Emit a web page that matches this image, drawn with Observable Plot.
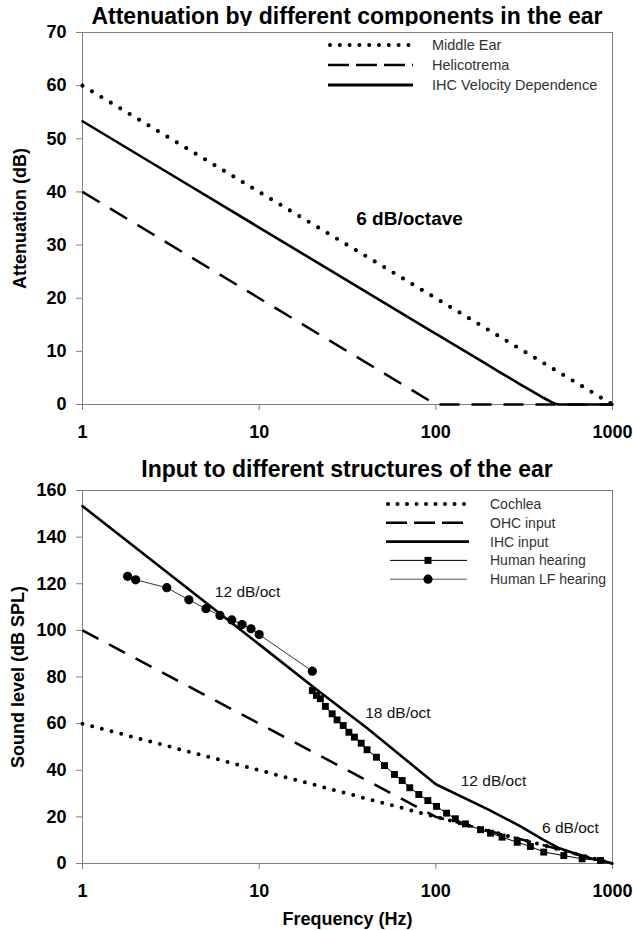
<!DOCTYPE html>
<html><head><meta charset="utf-8">
<script src="https://cdn.jsdelivr.net/npm/d3@7"></script>
<script src="https://cdn.jsdelivr.net/npm/@observablehq/plot@0.6"></script>
<style>
body{margin:0;background:#fff;}
#wrap{position:relative;width:633px;height:930px;font-family:"Liberation Sans",Arial,sans-serif;background:#fff;}
.title{position:absolute;left:82px;width:530px;text-align:center;font-weight:bold;font-size:23px;line-height:23px;color:#000;white-space:nowrap;}
.panel{position:absolute;left:0;}
#leg{position:absolute;left:0;top:0;pointer-events:none;}
</style></head><body>
<div id="wrap">
  <div class="title" style="top:5px">Attenuation by different components in the ear</div>
  <div class="panel" id="p1" style="top:26px"></div>
  <div class="title" style="top:458px">Input to different structures of the ear</div>
  <div class="panel" id="p2" style="top:484px"></div>
  <svg id="leg" width="633" height="930"></svg>
</div>
<script>
// ---------- data ----------
const xTicks = [1, 10, 100, 1000];
const yTicksTop = [0, 10, 20, 30, 40, 50, 60, 70];
const yTicksBottom = [0, 20, 40, 60, 80, 100, 120, 140, 160];

// Top panel: attenuation (dB) vs frequency (Hz)
const middleEarFreq = [1, 1000];
const middleEarDb   = [60, 0];
const helicotremaFreq = [1, 100, 1000];
const helicotremaDb   = [40, 0, 0];
const ihcVelFreq = [1, 10, 100, 200, 300, 350, 400, 450, 480, 500, 1000];
const ihcVelDb   = [53.3, 33.3, 13.3, 7.3, 3.8, 2.5, 1.4, 0.5, 0.1, 0, 0];

// Bottom panel: sound level (dB SPL) vs frequency (Hz)
const cochleaFreq = [1, 10, 100, 1000];
const cochleaDb   = [60, 40, 20, 0];
const ohcFreq = [1, 100, 1000];
const ohcDb   = [100, 20, 0];
const ihcInFreq = [1, 10, 20, 40.9, 100, 200, 300, 400, 500, 700, 1000];
const ihcInDb   = [153.3, 94, 76, 58, 34, 23, 16, 10.5, 6.5, 2.8, 0];
const humanFreq = [20, 21.1, 22.2, 23.7, 25.9, 27.6, 29.9, 32.2, 34.6, 37.8, 40.8, 46.1, 51.2, 58.3, 64.5, 71.2, 80.1, 90.1, 100.9, 115, 129, 147, 179, 204, 237, 289, 343, 408, 530, 673, 855];
const humanDb   = [74.2, 72.1, 70.7, 67.4, 64.2, 61.6, 59.2, 56.3, 54.2, 51.6, 48.8, 45.6, 42.0, 38.2, 35.6, 32.5, 29.6, 27.0, 24.5, 21.6, 19.2, 17.0, 14.5, 13.0, 11.3, 9.1, 7.3, 4.9, 3.4, 2.0, 1.3];
const humanLFFreq = [1.8, 2, 3, 4, 5, 6, 7, 8, 9, 10, 20];
const humanLFDb   = [123.2, 121.7, 118.3, 113.1, 109.3, 106.4, 104.5, 102.5, 100.7, 98.2, 82.5];

// annotations
const annotTopText = ["6 dB/octave"];
const annotTopFreq = [71];
const annotTopDb   = [35];
const annotBotText = ["12 dB/oct", "18 dB/oct", "12 dB/oct", "6 dB/oct"];
const annotBotFreq = [8.6, 61, 212, 578];
const annotBotDb   = [116.3, 64.4, 35.3, 15.4];

// legends
const legendTopLabels = ["Middle Ear", "Helicotrema", "IHC Velocity Dependence"];
const legendBotLabels = ["Cochlea", "OHC input", "IHC input", "Human hearing", "Human LF hearing"];

// ---------- helpers ----------
const zip = (xs, ys) => xs.map((x, i) => ({x, y: ys[i]}));
const zipT = (t, xs, ys) => t.map((s, i) => ({text: s, x: xs[i], y: ys[i]}));
const FONT = '"Liberation Sans", Arial, sans-serif';
const AX = "#808080";

const common = {
  width: 633, marginLeft: 82, marginRight: 21, marginTop: 6,
  style: {fontFamily: FONT, fontSize: "18px", fontWeight: "bold", background: "white", color: "black", overflow: "visible"},
  x: {type: "log", domain: [1, 1000]}
};

const dotted = (w, gap) => ({stroke: "black", strokeWidth: w, strokeDasharray: `0,${gap}`, strokeLinecap: "round"});

// ---------- panel 1 ----------
const p1 = Plot.plot({
  ...common,
  height: 408, marginBottom: 30,
  y: {domain: [0, 70]},
  marks: [
    Plot.frame({stroke: AX, strokeWidth: 1}),
    Plot.axisY({ticks: yTicksTop, tickSize: 6, tickPadding: 10, stroke: AX, fill: "black",
      label: "Attenuation (dB)", labelAnchor: "center", labelOffset: 69, labelArrow: "none"}),
    Plot.axisX({ticks: xTicks, tickSize: 6, tickPadding: 15, tickFormat: d => String(d), stroke: AX, fill: "black", label: null}),
    Plot.line(zip(middleEarFreq, middleEarDb), {x: "x", y: "y", ...dotted(4.2, 11)}),
    Plot.line(zip(helicotremaFreq, helicotremaDb), {x: "x", y: "y", stroke: "black", strokeWidth: 2.5, strokeDasharray: "20,12", strokeLinecap: "butt"}),
    Plot.line(zip(ihcVelFreq, ihcVelDb), {x: "x", y: "y", stroke: "black", strokeWidth: 2.6, curve: "monotone-x"}),
    Plot.text(zipT(annotTopText, annotTopFreq, annotTopDb), {x: "x", y: "y", text: "text", fontSize: 19, fontWeight: "bold", fill: "black", textAnchor: "middle", lineAnchor: "middle"})
  ]
});
document.getElementById("p1").append(p1);

// ---------- panel 2 ----------
const p2 = Plot.plot({
  ...common,
  height: 445, marginBottom: 66,
  y: {domain: [0, 160]},
  marks: [
    Plot.frame({stroke: AX, strokeWidth: 1}),
    Plot.axisY({ticks: yTicksBottom, tickSize: 6, tickPadding: 10, stroke: AX, fill: "black",
      label: "Sound level (dB SPL)", labelAnchor: "center", labelOffset: 71, labelArrow: "none"}),
    Plot.axisX({ticks: xTicks, tickSize: 6, tickPadding: 15, tickFormat: d => String(d), stroke: AX, fill: "black",
      label: "Frequency (Hz)", labelAnchor: "center", labelOffset: 61, labelArrow: "none"}),
    Plot.line(zip(cochleaFreq, cochleaDb), {x: "x", y: "y", ...dotted(4, 10)}),
    Plot.line(zip(ohcFreq, ohcDb), {x: "x", y: "y", stroke: "black", strokeWidth: 2.5, strokeDasharray: "18,12", strokeLinecap: "butt"}),
    Plot.line(zip(ihcInFreq, ihcInDb), {x: "x", y: "y", stroke: "black", strokeWidth: 2.6}),
    Plot.line(zip(humanFreq, humanDb), {x: "x", y: "y", stroke: "black", strokeWidth: 1}),
    Plot.dot(zip(humanFreq, humanDb), {x: "x", y: "y", symbol: "square", r: 3.9, fill: "black", stroke: "none"}),
    Plot.line(zip(humanLFFreq, humanLFDb), {x: "x", y: "y", stroke: "#333", strokeWidth: 1}),
    Plot.dot(zip(humanLFFreq, humanLFDb), {x: "x", y: "y", symbol: "circle", r: 4.6, fill: "black", stroke: "none"}),
    Plot.text(zipT(annotBotText, annotBotFreq, annotBotDb), {x: "x", y: "y", text: "text", fontSize: 15.5, fontWeight: "normal", fill: "#111", textAnchor: "middle", lineAnchor: "middle"})
  ]
});
document.getElementById("p2").append(p2);

// ---------- legends (overlay) ----------
const leg = d3.select("#leg").style("font-family", FONT);
const topStyles = [
  {dash: "0,9.8", w: 4, cap: "round"},
  {dash: "21,7", w: 2.5, cap: "butt"},
  {dash: null, w: 2.8, cap: "butt"}
];
legendTopLabels.forEach((lab, i) => {
  const y = 45 + i * 20;
  const s = topStyles[i];
  leg.append("line").attr("x1", s.cap === "round" ? 330 : 328).attr("x2", 413).attr("y1", y).attr("y2", y)
    .attr("stroke", "black").attr("stroke-width", s.w).attr("stroke-linecap", s.cap)
    .attr("stroke-dasharray", s.dash);
  leg.append("text").attr("x", 432).attr("y", y + 5).attr("font-size", 14.5).attr("fill", "#333").text(lab);
});
const botStyles = [
  {dash: "0,9.5", w: 4, cap: "round"},
  {dash: "21,7", w: 2.5, cap: "butt"},
  {dash: null, w: 2.8, cap: "butt"},
  {dash: null, w: 1, cap: "butt", marker: "square"},
  {dash: null, w: 1, cap: "butt", marker: "circle"}
];
legendBotLabels.forEach((lab, i) => {
  const y = 504 + i * 18.8;
  const s = botStyles[i];
  const x1 = s.marker ? 390 : (s.cap === "round" ? 388 : 386);
  const x2 = s.marker ? 467 : 469;
  leg.append("line").attr("x1", x1).attr("x2", x2).attr("y1", y).attr("y2", y)
    .attr("stroke", s.marker === "circle" ? "#555" : "black").attr("stroke-width", s.w).attr("stroke-linecap", s.cap)
    .attr("stroke-dasharray", s.dash);
  if (s.marker === "square") leg.append("rect").attr("x", 424.5).attr("y", y - 3.5).attr("width", 7).attr("height", 7).attr("fill", "black");
  if (s.marker === "circle") leg.append("circle").attr("cx", 428).attr("cy", y).attr("r", 4.6).attr("fill", "black");
  leg.append("text").attr("x", 490).attr("y", y + 5).attr("font-size", 14).attr("fill", "#333").text(lab);
});
</script>
</body></html>
